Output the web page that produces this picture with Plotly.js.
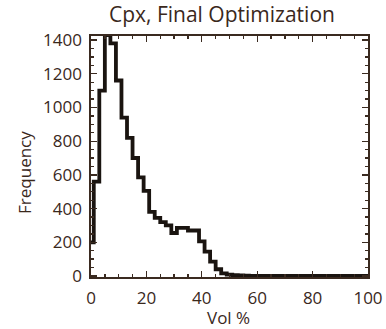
<!DOCTYPE html>
<html>
<head>
<meta charset="utf-8">
<script src="https://cdn.plot.ly/plotly-3.0.1.min.js"></script>
<style>html,body{margin:0;padding:0;background:#fff;}#chart{width:386px;height:329px;}</style>
</head>
<body>
<div id="chart"></div>
<script>
// Bin centres (Vol %) and counts
const volPct = [0,2,4,6,8,10,12,14,16,18,20,22,24,26,28,30,32,34,36,38,40,42,44,46,48,50,52,54,56,58,60,62,64,66,68,70,72,74,76,78,80,82,84,86,88,90,92,94,96,98,100];
const frequency = [200,560,1100,1430,1380,1160,940,820,700,585,505,380,345,320,300,255,285,285,270,270,205,145,85,40,15,8,5,3,2,1,1,1,1,1,1,1,1,1,1,1,1,1,1,1,1,1,1,1,1,1,1];
const xTicks = [0,20,40,60,80,100];
const yTicks = [0,200,400,600,800,1000,1200,1400];

const textColor = '#3a281c';
const frameColor = '#3a2a20';
const fontFam = '"Open Sans", "Noto Sans", sans-serif';

const trace = {
  x: volPct, y: frequency, type: 'scatter', mode: 'lines',
  line: {shape: 'hvh', color: '#1a1410', width: 3.8},
  hoverinfo: 'skip'
};

const layout = {
  width: 386, height: 329,
  margin: {l: 91, r: 18, t: 36, b: 52, pad: 0},
  paper_bgcolor: '#ffffff', plot_bgcolor: '#ffffff',
  showlegend: false,
  font: {family: fontFam, color: textColor, size: 17},
  title: {text: 'Cpx, Final Optimization', x: 0.575, xanchor: 'center', y: 0.955, yanchor: 'middle', xref: 'container', yref: 'container',
          font: {family: fontFam, size: 21, color: textColor}},
  xaxis: {
    range: [0, 100], tickvals: xTicks, ticktext: xTicks.map(String),
    ticks: 'inside', ticklen: 6, tickwidth: 1.3, tickcolor: frameColor,
    minor: {dtick: 5, tick0: 0, ticks: 'inside', ticklen: 3, tickwidth: 1.3, tickcolor: frameColor},
    showline: true, linecolor: frameColor, linewidth: 1.6, mirror: 'ticks',
    showgrid: false, zeroline: false, ticklabelstandoff: 5,
    tickfont: {family: fontFam, size: 17, color: textColor}
  },
  yaxis: {
    range: [-6, 1424], tickvals: yTicks, ticktext: yTicks.map(String),
    ticks: 'inside', ticklen: 6, tickwidth: 1.3, tickcolor: frameColor,
    minor: {dtick: 50, tick0: 0, ticks: 'inside', ticklen: 3, tickwidth: 1.3, tickcolor: frameColor},
    showline: true, linecolor: frameColor, linewidth: 1.6, mirror: 'ticks',
    showgrid: false, zeroline: false, ticklabelstandoff: 4,
    tickfont: {family: fontFam, size: 17, color: textColor}
  },
  annotations: [
    {text: 'Frequency', xref: 'paper', yref: 'paper', x: -0.238, y: 0.432, textangle: -90,
     showarrow: false, xanchor: 'center', yanchor: 'middle', font: {family: fontFam, size: 17, color: textColor}},
    {text: 'Vol %', xref: 'paper', yref: 'paper', x: 0.495, y: -0.170,
     showarrow: false, xanchor: 'center', yanchor: 'middle', font: {family: fontFam, size: 17, color: textColor}}
  ]
};

Plotly.newPlot('chart', [trace], layout, {staticPlot: true, displayModeBar: false});
</script>
</body>
</html>
